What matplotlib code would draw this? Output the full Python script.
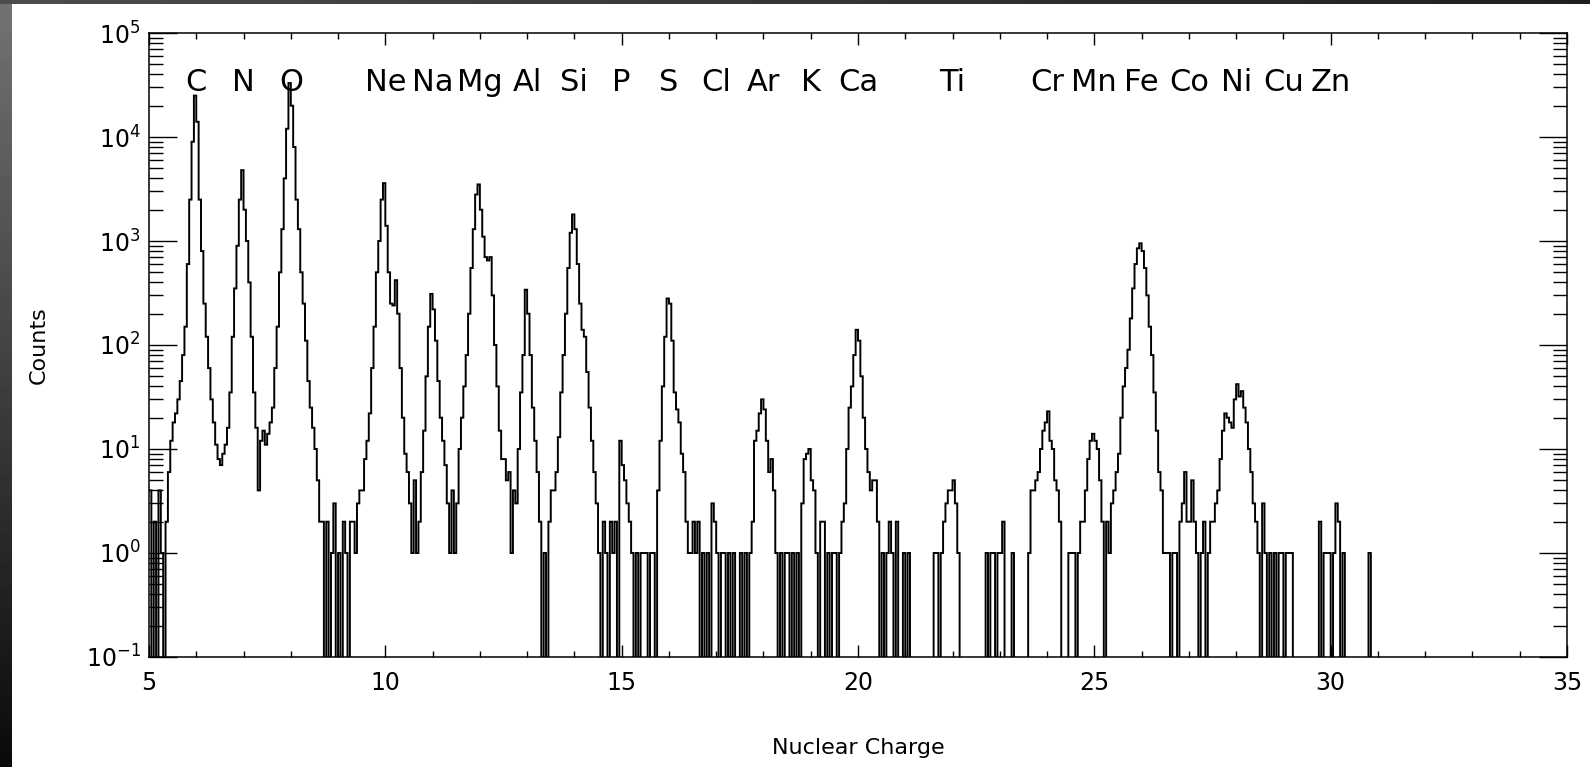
import numpy as np
import matplotlib
matplotlib.use('Agg')
import matplotlib.pyplot as plt
import matplotlib.transforms as mtransforms
from matplotlib.ticker import LogLocator, MultipleLocator, LogFormatterMathtext

plt.rcParams['font.family'] = ['DejaVu Sans']
plt.rcParams['mathtext.default'] = 'regular'

# histogram counts, 0.05 wide bins; z05 covers 5.0-5.5, zNN covers NN-0.5 .. NN+0.5
bin_start = 5.0
bin_width = 0.05
z05 = [4, 0, 2, 0, 4, 1, 0, 2, 6, 12]
z06 = [18, 22, 30, 45, 80, 150, 600, 2500, 9000, 25000, 14000, 2500, 800, 250, 120, 60, 30, 18, 11, 8]
z07 = [7, 9, 11, 16, 35, 120, 350, 900, 2500, 4800, 2000, 1000, 400, 120, 35, 16, 4, 12, 15, 11]
z08 = [14, 18, 25, 60, 150, 500, 1300, 4000, 12000, 33000, 20000, 8000, 2500, 1300, 500, 250, 110, 45, 25, 16]
z09 = [10, 5, 2, 2, 0, 2, 0, 1, 3, 0, 1, 0, 2, 1, 0, 2, 2, 1, 3, 4]
z10 = [4, 8, 12, 22, 60, 150, 500, 1000, 2500, 3600, 1400, 500, 250, 240, 420, 200, 60, 20, 9, 6]
z11 = [3, 1, 5, 1, 2, 6, 15, 50, 150, 310, 220, 110, 45, 20, 12, 7, 3, 1, 4, 1]
z12 = [3, 10, 20, 40, 80, 200, 550, 1300, 2800, 3500, 2000, 1100, 700, 650, 700, 300, 100, 40, 15, 8]
z13 = [8, 5, 6, 1, 4, 3, 10, 35, 80, 340, 200, 80, 25, 12, 6, 2, 0, 1, 0, 2]
z14 = [4, 4, 6, 13, 35, 80, 200, 550, 1200, 1800, 1300, 600, 250, 140, 120, 55, 25, 12, 6, 3]
z15 = [1, 0, 2, 1, 0, 2, 1, 2, 0, 12, 7, 5, 3, 2, 1, 0, 1, 0, 1, 1]
z16 = [1, 0, 1, 1, 0, 4, 12, 40, 120, 280, 250, 110, 35, 24, 18, 9, 6, 2, 1, 1]
z17 = [2, 1, 2, 0, 1, 0, 1, 0, 3, 2, 1, 0, 1, 1, 0, 1, 0, 1, 0, 0]
z18 = [1, 0, 1, 0, 1, 2, 12, 15, 22, 30, 24, 12, 6, 8, 4, 1, 0, 1, 0, 1]
z19 = [1, 0, 1, 0, 1, 0, 3, 8, 9, 10, 5, 4, 1, 0, 2, 2, 0, 1, 0, 1]
z20 = [1, 0, 1, 2, 3, 10, 25, 40, 80, 140, 110, 50, 20, 10, 6, 4, 5, 5, 2, 0]
z21 = [1, 0, 1, 2, 1, 0, 2, 0, 0, 1, 0, 1, 0, 0, 0, 0, 0, 0, 0, 0]
z22 = [0, 0, 1, 1, 0, 1, 2, 3, 4, 4, 5, 3, 1, 0, 0, 0, 0, 0, 0, 0]
z23 = [0, 0, 0, 0, 1, 0, 1, 1, 0, 1, 1, 2, 0, 0, 0, 1, 0, 0, 0, 0]
z24 = [0, 0, 1, 4, 4, 5, 6, 10, 15, 18, 23, 12, 10, 5, 4, 2, 0, 0, 0, 1]
z25 = [1, 1, 0, 1, 2, 2, 4, 8, 12, 14, 12, 10, 5, 2, 0, 2, 1, 3, 4, 6]
z26 = [9, 20, 40, 60, 90, 180, 350, 600, 850, 950, 800, 550, 300, 150, 80, 35, 15, 6, 4, 1]
z27 = [1, 1, 0, 1, 1, 0, 2, 3, 6, 2, 2, 5, 2, 1, 0, 1, 2, 0, 1, 2]
z28 = [2, 3, 4, 8, 15, 22, 20, 18, 16, 30, 42, 32, 36, 25, 18, 10, 6, 3, 2, 1]
z29 = [0, 3, 1, 0, 1, 0, 1, 0, 1, 1, 0, 1, 1, 1, 0, 0, 0, 0, 0, 0]
z30 = [0, 0, 0, 0, 0, 2, 0, 1, 1, 1, 0, 1, 3, 2, 0, 1, 0, 0, 0, 0]
z31 = [0, 0, 0, 0, 0, 0, 1, 0, 0, 0, 0, 0, 0, 0, 0, 0, 0, 0, 0, 0]

elements = ['C', 'N', 'O', 'Ne', 'Na', 'Mg', 'Al', 'Si', 'P', 'S', 'Cl', 'Ar', 'K', 'Ca',
            'Ti', 'Cr', 'Mn', 'Fe', 'Co', 'Ni', 'Cu', 'Zn']
element_z = [6, 7, 8, 10, 11, 12, 13, 14, 15, 16, 17, 18, 19, 20,
             22, 24, 25, 26, 27, 28, 29, 30]

counts = np.array(z05 + z06 + z07 + z08 + z09 + z10 + z11 + z12 + z13 + z14 + z15 + z16 +
                  z17 + z18 + z19 + z20 + z21 + z22 + z23 + z24 + z25 + z26 + z27 + z28 +
                  z29 + z30 + z31, dtype=float)
edges = bin_start + bin_width*np.arange(len(counts) + 1)

W, H = 1590, 767
fig = plt.figure(figsize=(W/100, H/100), dpi=100, facecolor='white')

# dark screenshot frame on the left and top
left = fig.add_axes([0, 0, 12/W, 1])
grad = np.linspace(0.45, 0.04, 200).reshape(-1, 1)
left.imshow(grad, cmap='gray', vmin=0, vmax=1, aspect='auto', extent=[0, 1, 0, 1])
left.set_axis_off()
top = fig.add_axes([0, 1 - 4/H, 1, 4/H])
top.imshow(np.linspace(0.3, 0.12, 200).reshape(1, -1), cmap='gray', vmin=0, vmax=1,
           aspect='auto', extent=[0, 1, 0, 1])
top.set_axis_off()

ax = fig.add_axes([149/W, (H - 657)/H, (1567 - 149)/W, 624/H])
plot_vals = np.where(counts > 0, counts, 1e-3)
ax.stairs(plot_vals, edges, baseline=None, color='black', lw=1.4)

ax.set_yscale('log')
ax.set_xlim(5, 35)
ax.set_ylim(0.1, 1e5)

ax.xaxis.set_major_locator(MultipleLocator(5))
ax.xaxis.set_minor_locator(MultipleLocator(1))
ax.yaxis.set_major_locator(LogLocator(base=10, numticks=10))
ax.yaxis.set_minor_locator(LogLocator(base=10, subs=np.arange(2, 10), numticks=20))
ax.yaxis.set_major_formatter(LogFormatterMathtext())

ax.tick_params(axis='both', which='both', direction='in', top=True, right=True, width=1.0,
               labelsize=17, colors='black')
ax.tick_params(axis='x', which='major', length=8.5, pad=10)
ax.tick_params(axis='x', which='minor', length=4.3)
ax.tick_params(axis='y', which='major', length=20, pad=6)
ax.tick_params(axis='y', which='minor', length=10)
for s in ax.spines.values():
    s.set_linewidth(1.1)

ax.set_xlabel('Nuclear Charge', fontsize=16)
ax.set_ylabel('Counts', fontsize=16)
ax.xaxis.set_label_coords(0.5, -0.13)
ax.yaxis.set_label_coords(-0.071, 0.5)

trans = mtransforms.blended_transform_factory(ax.transData, ax.transAxes)
for name, z in zip(elements, element_z):
    ax.text(z, 0.907, name, transform=trans, ha='center', va='baseline', fontsize=22)

fig.savefig('out.png', dpi=100)
